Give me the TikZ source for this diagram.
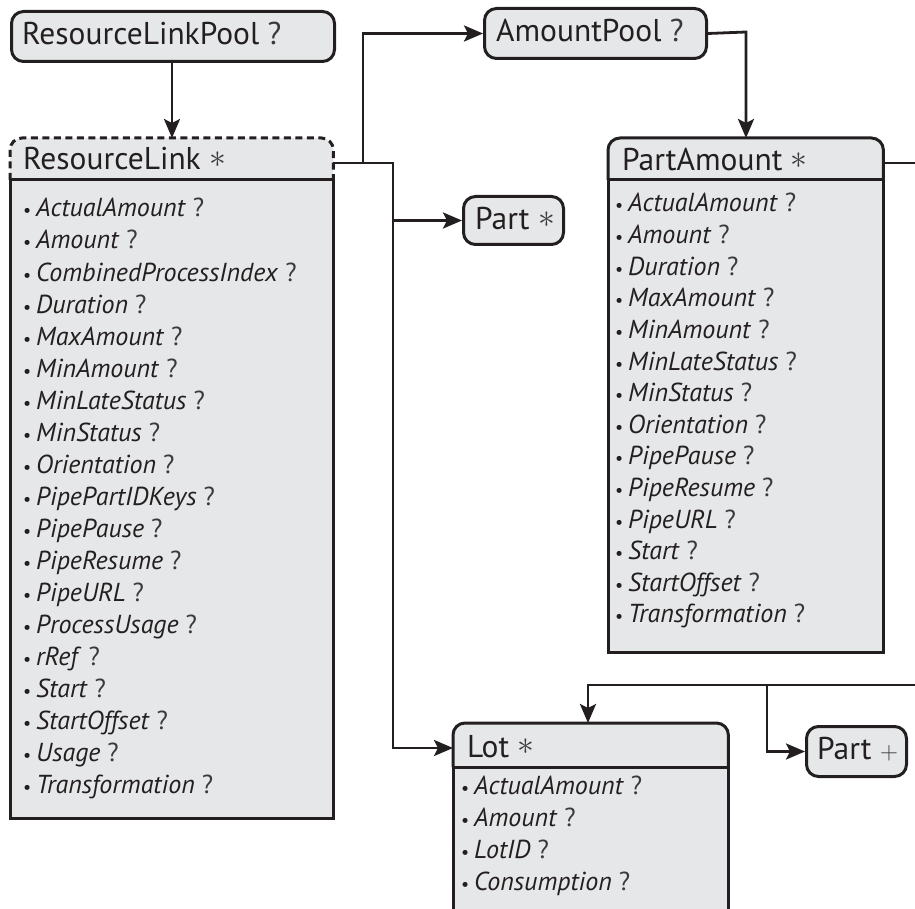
\documentclass[tikz,border=0pt]{standalone}
\usepackage{fontspec}
\setmainfont{PT Sans}
\usetikzlibrary{arrows.meta,calc}
\definecolor{boxfill}{HTML}{E6E7E8}
\definecolor{ink}{HTML}{231F20}
\definecolor{qmark}{HTML}{3A3A3C}
\newcommand{\qm}[1]{{\color{qmark}#1}}
\newcommand{\mstar}{\qm{\raisebox{2.5pt}{\scalebox{1.35}{$\ast$}}}}
\newcommand{\itm}[1]{\llap{{\fontsize{18}{18}\selectfont\textbullet}\hspace{5pt}}\textit{#1}\ \qm{?}}
\tikzset{
  every node/.style={inner sep=0pt, text=ink},
  frame/.style={draw=ink, line width=3pt},
  dashframe/.style={draw=ink, line width=3pt, dash pattern=on 7pt off 4.5pt},
  pool/.style={rectangle, draw=ink, fill=boxfill, line width=3pt, rounded corners=12pt, anchor=north west},
  area/.style={rectangle, anchor=north west},
  conn/.style={draw=ink, line width=2.8pt},
  arr/.style={conn, -{Stealth[length=19pt,width=16pt,inset=4pt]}},
  hdrtext/.style={anchor=base west, font=\fontsize{31.5}{31.5}\selectfont},
  itemtext/.style={anchor=base west, font=\fontsize{26}{26}\selectfont},
}
\begin{document}
\begin{tikzpicture}[x=1pt,y=-1pt]
\useasboundingbox (0,0) rectangle (915,909);
\clip (0,0) rectangle (915,909);

% ---------- pool / single nodes
\node[pool, minimum width=323pt, minimum height=50pt] (rlp) at (10,10) {};
\node[hdrtext] (rlpt) at (22,45) {ResourceLinkPool \qm{?}};

\node[pool, minimum width=222pt, minimum height=50pt] (ap) at (483,7) {};
\node[hdrtext] (apt) at (496,42) {AmountPool \qm{?}};

\node[pool, minimum width=100pt, minimum height=48pt] (ps) at (462,195) {};
\node[hdrtext] (pst) at (475,230) {Part \mstar};

\node[pool, minimum width=100pt, minimum height=50pt] (pp) at (805,725) {};
\node[hdrtext] (ppt) at (817,759) {Part \qm{$+$}};

% ---------- ResourceLink box
\node[area, minimum width=323pt, minimum height=680pt] (rl) at (10,138) {};
\fill[boxfill, rounded corners=12pt] (rl.north west) rectangle ($(rl.north east)+(0,40)$);
\fill[boxfill] ($(rl.north west)+(0,20)$) rectangle (rl.south east);
\draw[dashframe, rounded corners=12pt] ($(rl.north west)+(0,42)$) -- (rl.north west) -- (rl.north east) -- ($(rl.north east)+(0,42)$);
\draw[frame] ($(rl.north west)+(0,42)$) rectangle (rl.south east);
\node[hdrtext] (rlt) at (23,170) {ResourceLink \mstar};
\foreach \t [count=\i from 0] in {ActualAmount,Amount,CombinedProcessIndex,Duration,MaxAmount,MinAmount,MinLateStatus,MinStatus,Orientation,PipePartIDKeys,PipePause,PipeResume,PipeURL,ProcessUsage,rRef,Start,StartOffset,Usage,Transformation}
  \node[itemtext] (rli\i) at (36,{217+32*\i}) {\itm{\t}};

% ---------- PartAmount box
\node[area, minimum width=275pt, minimum height=514pt] (pa) at (608,138) {};
\fill[boxfill, rounded corners=12pt] (pa.north west) rectangle ($(pa.north east)+(0,40)$);
\fill[boxfill] ($(pa.north west)+(0,20)$) rectangle (pa.south east);
\draw[frame, rounded corners=12pt] ($(pa.north west)+(0,42)$) -- (pa.north west) -- (pa.north east) -- ($(pa.north east)+(0,42)$);
\draw[frame] ($(pa.north west)+(0,42)$) rectangle (pa.south east);
\node[hdrtext] (pat) at (622,171) {PartAmount \mstar};
\foreach \t [count=\i from 0] in {ActualAmount,Amount,Duration,MaxAmount,MinAmount,MinLateStatus,MinStatus,Orientation,PipePause,PipeResume,PipeURL,Start,StartOffset,Transformation}
  \node[itemtext] (pai\i) at (628,{212+31.6*\i}) {\itm{\t}};

% ---------- Lot box
\node[area, minimum width=275pt, minimum height=240pt] (lot) at (453,723) {};
\fill[boxfill, rounded corners=12pt] (lot.north west) rectangle ($(lot.north east)+(0,40)$);
\fill[boxfill] ($(lot.north west)+(0,20)$) rectangle (lot.south east);
\draw[frame, rounded corners=12pt] ($(lot.north west)+(0,44)$) -- (lot.north west) -- (lot.north east) -- ($(lot.north east)+(0,44)$);
\draw[frame] ($(lot.north west)+(0,44)$) rectangle (lot.south east);
\node[hdrtext] (lott) at (467,757) {Lot \mstar};
\foreach \t [count=\i from 0] in {ActualAmount,Amount,LotID,Consumption}
  \node[itemtext] (loti\i) at (474,{794+32*\i}) {\itm{\t}};

% ---------- connectors
\coordinate (rlout) at ($(rl.north east)+(0,25)$);
\coordinate (jA) at (363,163);
\coordinate (jB) at (393,163);
\coordinate (jC) at (746,32);
\coordinate (paout) at ($(pa.north east)+(0,25)$);
\coordinate (offR) at (940,163);
\coordinate (offL) at (940,685);
\coordinate (jD) at (588,685);
\coordinate (jE) at (767,685);

\draw[arr] (rlp.south -| 172,0) -- (rl.north -| 172,0);
\draw[arr] (rlout) -- (jB) -- (jB |- 0,748) -- ($(lot.north west)+(0,25)$);
\draw[arr] (jA) -- (jA |- ap.west) -- (ap.west);
\draw[arr] (jB |- ps.west) -- (ps.west);
\draw[arr] (ap.east) -- (jC) -- (jC |- pa.north);
\draw[conn] (paout) -- (offR);
\draw[arr] (offL) -- (jD) -- (jD |- lot.north);
\draw[arr] (jE) -- (jE |- pp.west) -- (pp.west);
\end{tikzpicture}
\end{document}
